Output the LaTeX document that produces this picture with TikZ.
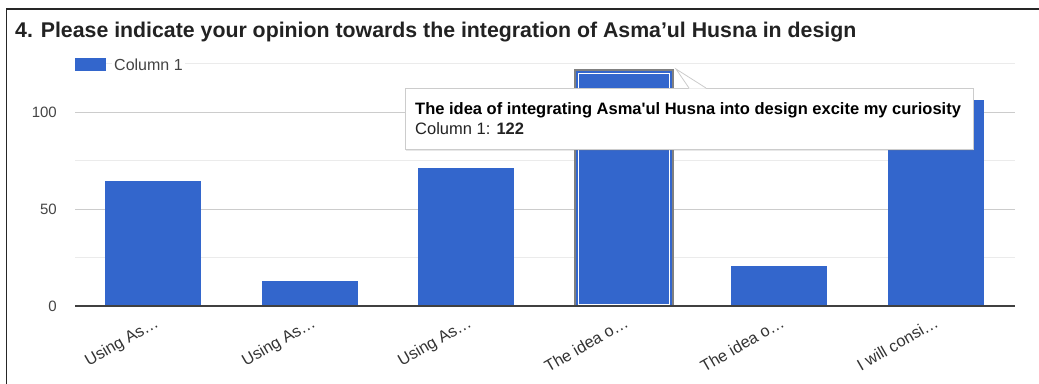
\documentclass[tikz,border=0pt]{standalone}
\usepackage{fontspec}
\setmainfont{Liberation Sans}
\newfontfamily\tipfont{Liberation Sans}[Ligatures=TeXOff]
\usetikzlibrary{shadows}
\definecolor{gblue}{HTML}{3366CC}
\definecolor{majgrid}{HTML}{CCCCCC}
\definecolor{mingrid}{HTML}{EBEBEB}
\definecolor{lbl}{HTML}{444444}
\definecolor{xlbl}{HTML}{333333}
\definecolor{ttl}{HTML}{222222}
\tikzset{
  barbox/.style={fill=gblue, draw=none},
  majline/.style={draw=majgrid, line width=0.9pt},
  minline/.style={draw=mingrid, line width=0.9pt},
  ylab/.style={anchor=east, text=lbl, font=\fontsize{15}{18}\selectfont, inner sep=0pt},
  xlab/.style={anchor=north east, rotate=30, text=xlbl, font=\fontsize{16.3}{19}\selectfont, inner sep=1pt},
  tipbox/.style={fill=white, draw=majgrid, line width=0.8pt, drop shadow={opacity=0.18, shadow xshift=1pt, shadow yshift=-1.5pt}},
}
\begin{document}
\begin{tikzpicture}[x=1pt, y=-1pt]
\useasboundingbox (0,0) rectangle (1039,383);
\begin{scope}
\clip (0,0) rectangle (1039,383);
% frame
\draw[line width=1.4pt, black!85] (6.5,390) -- (6.5,9) -- (1045,9);
\end{scope}
% title
\node[anchor=base west, inner sep=0pt, text=ttl, font=\fontsize{21.3}{25}\selectfont\bfseries] (title) at (15,37) {4. Please indicate your opinion towards the integration of Asma’ul Husna in design};
% gridlines
\draw[minline] (75,63.5) -- (1015,63.5);
\draw[majline] (75,112) -- (1015,112);
\draw[minline] (75,160.5) -- (1015,160.5);
\draw[majline] (75,209) -- (1015,209);
\draw[minline] (75,257.5) -- (1015,257.5);
% legend
\fill[gblue] (75,57.5) rectangle (106,71);
\node[anchor=west, fill=white, inner xsep=2pt, inner ysep=1pt, text=lbl, font=\fontsize{16}{19}\selectfont] (leg) at (112,64.5) {Column 1};
% y labels
\node[ylab] (y100) at (57,112) {100};
\node[ylab] (y50) at (57,209) {50};
\node[ylab] (y0) at (57,306) {0};
% bars
\fill[barbox] (105,181) rectangle (201,306);
\fill[barbox] (262,281) rectangle (358,306);
\fill[barbox] (418,168) rectangle (514,306);
\fill[barbox] (731,266) rectangle (827,306);
\fill[barbox] (888,100) rectangle (984,306);
% highlighted bar
\fill[black!50] (574,69) rectangle (673.5,306);
\fill[gblue] (576,71) rectangle (671.5,306);
\draw[white, line width=0.9pt] (578.5,73.5) rectangle (669,304);
% axis
\draw[draw=black!75, line width=1.2pt] (75,306) -- (1015,306);
% x labels
\node[xlab] (x1) at (154,314) {Using As…};
\node[xlab] (x2) at (311,314) {Using As…};
\node[xlab] (x3) at (467,314) {Using As…};
\node[xlab] (x4) at (624,314) {The idea o…};
\node[xlab] (x5) at (780,314) {The idea o…};
\node[xlab] (x6) at (934,314) {I will consi…};
% tooltip
\node[tipbox, anchor=north west, minimum width=568pt, minimum height=61pt, inner sep=0pt] (tip) at (405,88) {};
\fill[white] (676,69) -- (689,88.6) -- (706,88.6) -- cycle;
\draw[majgrid, line width=0.8pt] (689,88) -- (676,69) -- (706,88);
\node[anchor=base west, inner sep=0pt, font=\tipfont\fontsize{16.5}{20}\selectfont\bfseries] (tipl1) at (415,114) {The idea of integrating Asma'ul Husna into design excite my curiosity};
\node[anchor=base west, inner sep=0pt, text=ttl, font=\tipfont\fontsize{16.5}{20}\selectfont] (tipl2) at (415,134.5) {Column 1: \textbf{122}};
\end{tikzpicture}
\end{document}
